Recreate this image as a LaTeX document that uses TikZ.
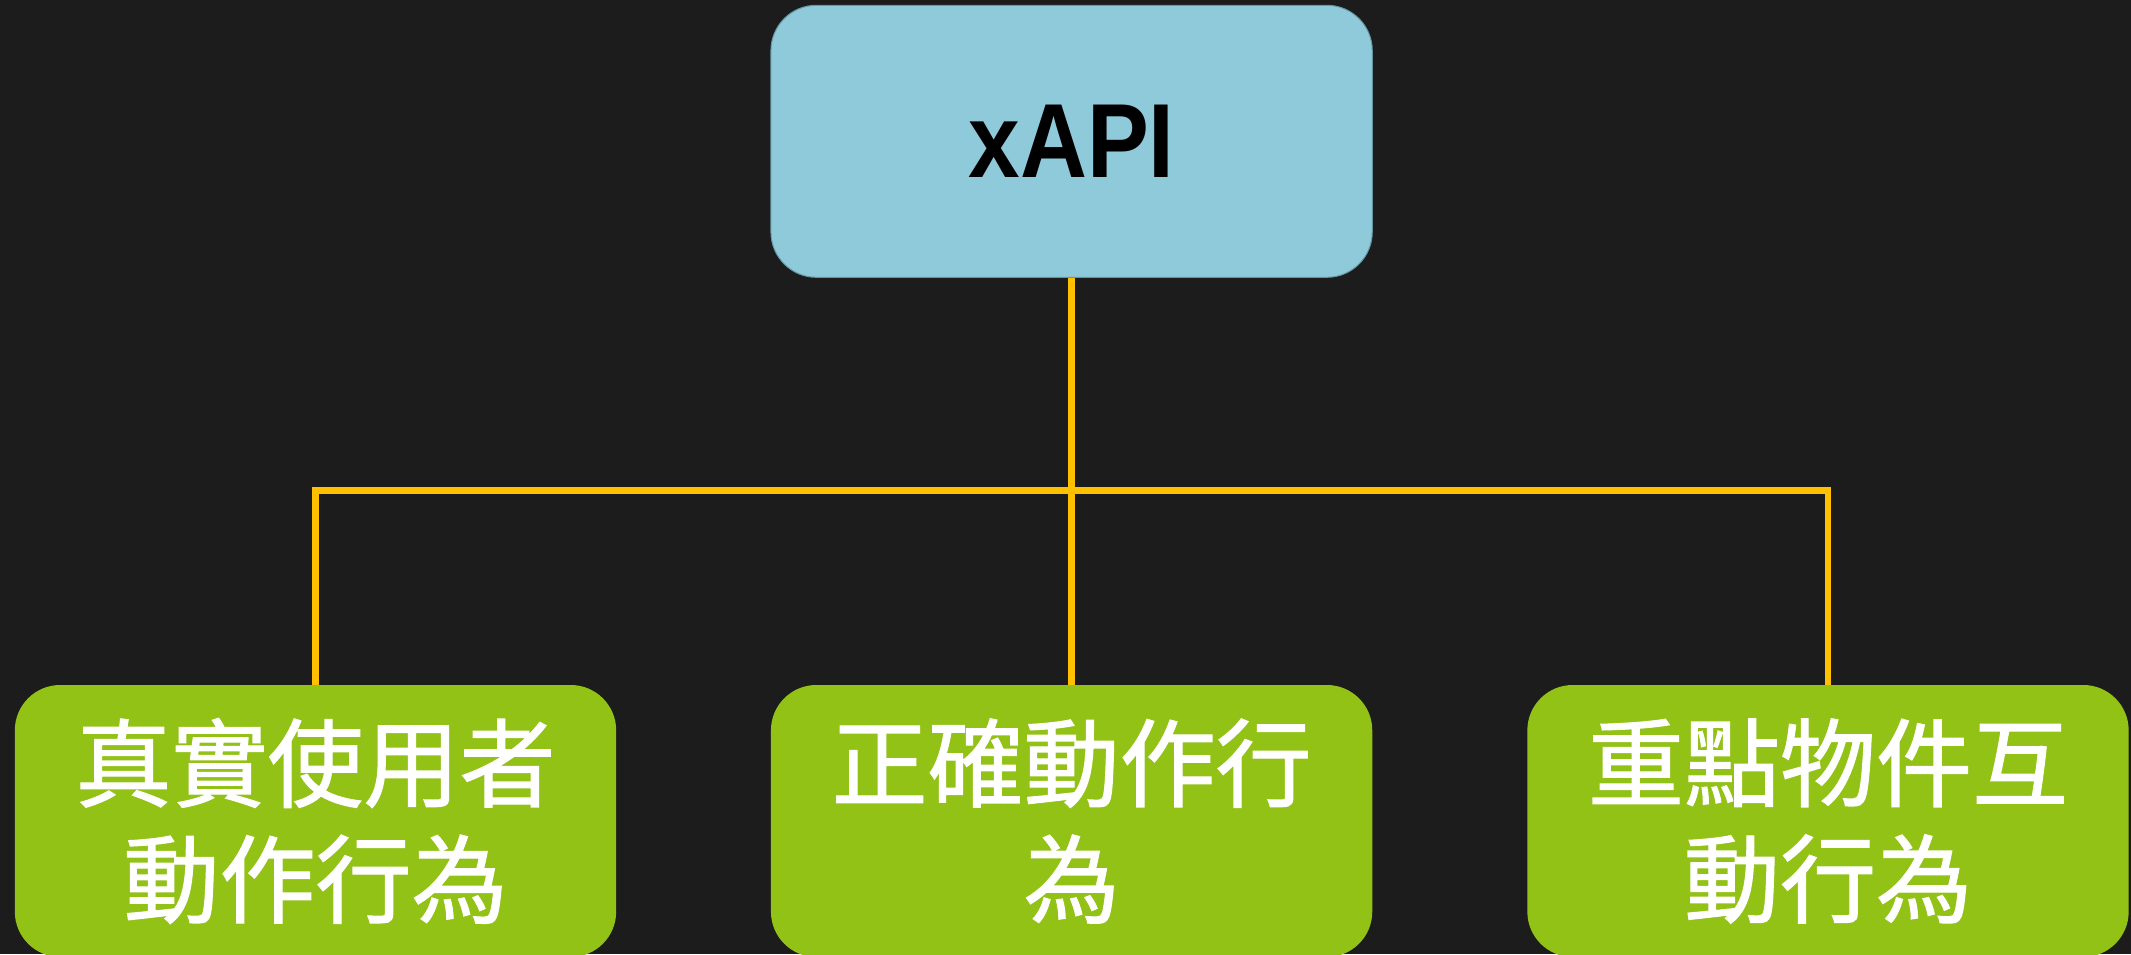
\documentclass[tikz,border=0pt]{standalone}
\usepackage{fontspec}
\setmainfont{Liberation Sans}
\newfontfamily\xfont[FakeStretch=0.88]{Liberation Sans}
\newfontfamily\cjk[FakeBold=1.2]{Noto Sans CJK TC}
\definecolor{bgc}{RGB}{28,28,28}
\definecolor{topc}{RGB}{143,202,218}
\definecolor{topedge}{RGB}{100,150,165}
\definecolor{leafc}{RGB}{146,194,22}
\definecolor{linec}{RGB}{255,192,0}
\tikzset{
  boxbase/.style={rectangle, rounded corners=34pt, minimum width=451pt, minimum height=204pt, inner sep=0pt, align=center},
  rootbox/.style={boxbase, fill=topc, draw=topedge, line width=0.75pt, font=\xfont\bfseries\fontsize{79}{90}\selectfont, text=black},
  leafbox/.style={boxbase, fill=leafc, font=\cjk\fontsize{72}{87}\selectfont, text=white},
  conn/.style={draw=linec, line width=5pt}
}
\begin{document}
\begin{tikzpicture}[x=0.75pt,y=-0.75pt]
\fill[bgc] (0,0) rectangle (2131,954);
\useasboundingbox (0,0) rectangle (2131,954);
\node[rootbox] (root) at (1071.6,141.3) {xAPI};
\node[leafbox] (left) at (315.5,821) {真實使用者\\動作行為};
\node[leafbox] (mid) at (1071.6,821) {正確動作行\\為};
\node[leafbox] (right) at (1828,821) {重點物件互\\動行為};
\coordinate (j) at (1071.6,490.6);
\draw[conn] (root.south) -- (mid.north);
\draw[conn] (j) -| (left.north);
\draw[conn] (j) -| (right.north);
\end{tikzpicture}
\end{document}
